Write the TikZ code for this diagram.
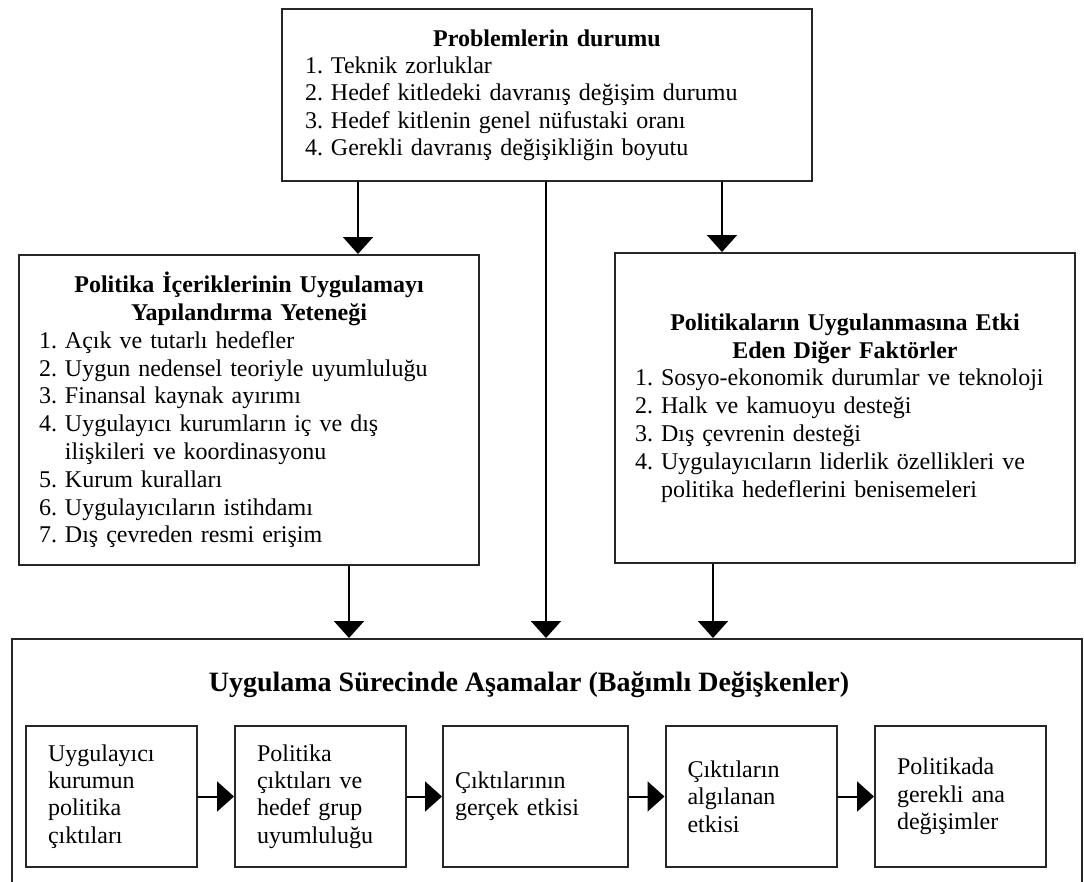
\documentclass[tikz,border=0pt]{standalone}
\usepackage{fontspec}
\setmainfont{Liberation Serif}
\usetikzlibrary{arrows.meta}
\setlength{\parindent}{0pt}
\frenchspacing
\tikzset{
  box/.style={draw=black!85, line width=2pt, align=left, inner ysep=0pt,
    font=\fontsize{24}{27.8}\selectfont},
  topbox/.style={box, font=\fontsize{24}{27.3}\selectfont},
  stagebox/.style={box, minimum width=171pt, minimum height=141pt, text width=127pt, inner xsep=22pt,
    font=\fontsize{24}{27.3}\selectfont},
  arr/.style={line width=2pt, -{Triangle[width=30pt,length=17pt]}},
}
\begin{document}
\begin{tikzpicture}[x=1pt,y=-1pt]
\useasboundingbox (0,0) rectangle (1084,881);
\clip (0,0) rectangle (1084,881);
\fill[white] (0,0) rectangle (1084,881);

% top box
\node[topbox, minimum width=530pt, minimum height=172pt, text width=484pt, inner xsep=23pt] (prob) at (547,95)
{{\centering\bfseries Problemlerin durumu\par}
1. Teknik zorluklar\\
2. Hedef kitledeki davranış değişim durumu\\
3. Hedef kitlenin genel nüfustaki oranı\\
4. Gerekli davranış değişikliğin boyutu};

% left box
\node[box, minimum width=460pt, minimum height=310pt, text width=420pt, inner xsep=20pt] (left) at (249,410)
{{\centering\bfseries Politika İçeriklerinin Uygulamayı\\Yapılandırma Yeteneği\par}
1. Açık ve tutarlı hedefler\\
2. Uygun nedensel teoriyle uyumluluğu\\
3. Finansal kaynak ayırımı\\
4. Uygulayıcı kurumların iç ve dış\\
\hphantom{4. }ilişkileri ve koordinasyonu\\
5. Kurum kuralları\\
6. Uygulayıcıların istihdamı\\
7. Dış çevreden resmi erişim};

% right box
\node[box, minimum width=460pt, minimum height=310pt, text width=420pt, inner xsep=20pt] (right) at (845,408)
{{\centering\bfseries Politikaların Uygulanmasına Etki\\Eden Diğer Faktörler\par}
1. Sosyo-ekonomik durumlar ve teknoloji\\
2. Halk ve kamuoyu desteği\\
3. Dış çevrenin desteği\\
4. Uygulayıcıların liderlik özellikleri ve\\
\hphantom{4. }politika hedeflerini benisemeleri};

% outer box (bottom is cut by the picture edge)
\node[draw=black!85, line width=2pt, minimum width=1070pt, minimum height=262pt, inner sep=0pt] (outer) at (547,770) {};
\node[font=\fontsize{28}{32}\selectfont\bfseries, inner sep=0pt] (otitle) at (529,685)
{Uygulama Sürecinde Aşamalar (Bağımlı Değişkenler)};

% stage boxes
\node[stagebox] (b1) at (111.5,796.5) {Uygulayıcı\\kurumun\\politika\\çıktıları};
\node[stagebox] (b2) at (320.5,796.5) {Politika\\çıktıları ve\\hedef grup\\uyumluluğu};
\node[stagebox, minimum width=185pt, text width=161pt, inner xsep=12pt] (b3) at (535.5,796.5) {Çıktılarının\\gerçek etkisi};
\node[stagebox] (b4) at (751,796.5) {Çıktıların\\algılanan\\etkisi};
\node[stagebox] (b5) at (960.5,796.5) {Politikada\\gerekli ana\\değişimler};

% connectors
\draw[arr] ([xshift=-189pt]prob.south) -- ([xshift=-189pt]prob.south |- left.north);
\draw[arr] ([xshift=175pt]prob.south) -- ([xshift=175pt]prob.south |- right.north);
\draw[arr] ([xshift=-1pt]prob.south) -- ([xshift=-1pt]prob.south |- outer.north);
\draw[arr] ([xshift=100pt]left.south) -- ([xshift=100pt]left.south |- outer.north);
\draw[arr] ([xshift=-132pt]right.south) -- ([xshift=-132pt]right.south |- outer.north);

\draw[arr] (b1) -- (b2);
\draw[arr] (b2) -- (b3);
\draw[arr] (b3) -- (b4);
\draw[arr] (b4) -- (b5);
\end{tikzpicture}
\end{document}
